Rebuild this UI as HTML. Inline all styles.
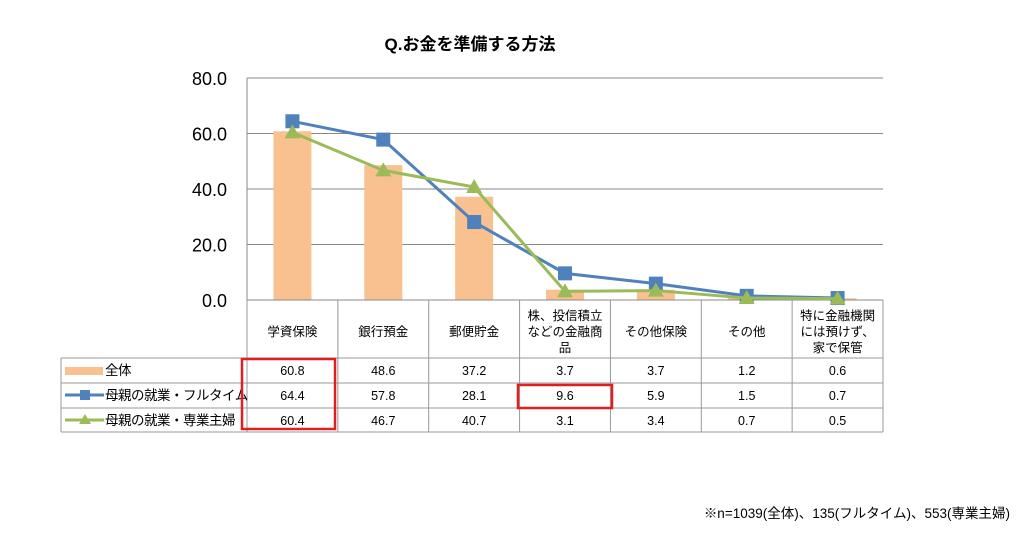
<!DOCTYPE html>
<html><head><meta charset="utf-8"><style>
body{margin:0;background:#fff;width:1024px;height:537px;overflow:hidden;font-family:"Liberation Sans","Noto Sans CJK JP",sans-serif}
svg text{font-family:"Liberation Sans","Noto Sans CJK JP",sans-serif}
</style></head><body>
<svg id="c" width="1024" height="537"></svg>
<script>
const categories=[["学資保険"],["銀行預金"],["郵便貯金"],["株、投信積立","などの金融商","品"],["その他保険"],["その他"],["特に金融機関","には預けず、","家で保管"]];
const seriesNames=["全体","母親の就業・フルタイム","母親の就業・専業主婦"];
const allValues=[60.8,48.6,37.2,3.7,3.7,1.2,0.6];
const fullValues=[64.4,57.8,28.1,9.6,5.9,1.5,0.7];
const homeValues=[60.4,46.7,40.7,3.1,3.4,0.7,0.5];
const yTicks=[0,20,40,60,80];
const ns="http://www.w3.org/2000/svg",svg=document.getElementById('c');
function el(t,a,p){const e=document.createElementNS(ns,t);for(const k in a)e.setAttribute(k,a[k]);(p||svg).appendChild(e);return e;}
const X0=247,X1=883,Y0=300,Y1=78,cw=(X1-X0)/categories.length;
const y=v=>Y0-(v/80)*(Y0-Y1), xc=i=>X0+cw*(i+0.5);
let t=el('text',{x:470,y:50,'font-size':17,'font-weight':'bold','text-anchor':'middle'});t.textContent='Q.お金を準備する方法';

yTicks.forEach(v=>{
 if(v>0){const g=el('line',{x1:X0,x2:X1,y1:y(v),y2:y(v),stroke:'#888','stroke-width':1});}
 const l=el('text',{x:227,y:y(v)+7,'font-size':18,'text-anchor':'end'});l.textContent=v.toFixed(1);
 
});
el('line',{x1:X0,x2:X0,y1:Y1,y2:Y0,stroke:'#888'});
allValues.forEach((v,i)=>{const r=el('rect',{x:xc(i)-19,y:y(v),width:38,height:Y0-y(v),fill:'#f9c090'});
 });
el('line',{x1:X0,x2:X1,y1:Y0,y2:Y0,stroke:'#888'});
function line(vals,color,marker,name){
 const p=el('polyline',{points:vals.map((v,i)=>xc(i)+','+y(v)).join(' '),fill:'none',stroke:color,'stroke-width':3});
 
 vals.forEach((v,i)=>{let m;
  if(marker==='sq')m=el('rect',{x:xc(i)-7,y:y(v)-7,width:14,height:14,fill:color});
  else m=el('polygon',{points:`${xc(i)},${y(v)-8} ${xc(i)-8},${y(v)+6} ${xc(i)+8},${y(v)+6}`,fill:color});
  });
}
line(fullValues,'#4f81bd','sq','fulltime');
line(homeValues,'#9bbb59','tri','housewife');
const rows=[358,383,408,432];
const tb=el('g',{stroke:'#999','stroke-width':1,fill:'none'});
for(let i=0;i<=categories.length;i++)el('line',{x1:X0+cw*i,x2:X0+cw*i,y1:Y0,y2:432},tb);
el('line',{x1:61,x2:61,y1:358,y2:432},tb);
rows.forEach(r=>el('line',{x1:61,x2:X1,y1:r,y2:r},tb));
categories.forEach((c,i)=>{const n=c.length,sy=331-(n-1)*8;
 c.forEach((s,j)=>{const tx=el('text',{x:xc(i),y:sy+j*16+5,'font-size':12.5,'text-anchor':'middle'});tx.textContent=s;
 });});
[allValues,fullValues,homeValues].forEach((vals,r)=>{
 vals.forEach((v,i)=>{const tx=el('text',{x:xc(i),y:rows[r]+17,'font-size':12.5,'text-anchor':'middle'});tx.textContent=v.toFixed(1);
 });
 const tx=el('text',{x:105,y:rows[r]+17,'font-size':13.5,'letter-spacing':-0.5});tx.textContent=seriesNames[r];
 
});
el('rect',{x:65,y:367,width:38,height:8,fill:'#f9c090'});
el('line',{x1:65,x2:104,y1:395,y2:395,stroke:'#4f81bd','stroke-width':3});el('rect',{x:80,y:390,width:10,height:10,fill:'#4f81bd'});
el('line',{x1:65,x2:104,y1:420,y2:420,stroke:'#9bbb59','stroke-width':3});el('polygon',{points:'85,414 79,424 91,424',fill:'#9bbb59'});
el('rect',{x:242,y:359,width:93,height:70,fill:'none',stroke:'#e02020','stroke-width':2.5});
el('rect',{x:518,y:385,width:94,height:23,fill:'none',stroke:'#e02020','stroke-width':2.5});
t=el('text',{x:1010,y:518,'font-size':13.5,'text-anchor':'end'});t.textContent='※n=1039(全体)、135(フルタイム)、553(専業主婦)';

</script>
</body></html>
